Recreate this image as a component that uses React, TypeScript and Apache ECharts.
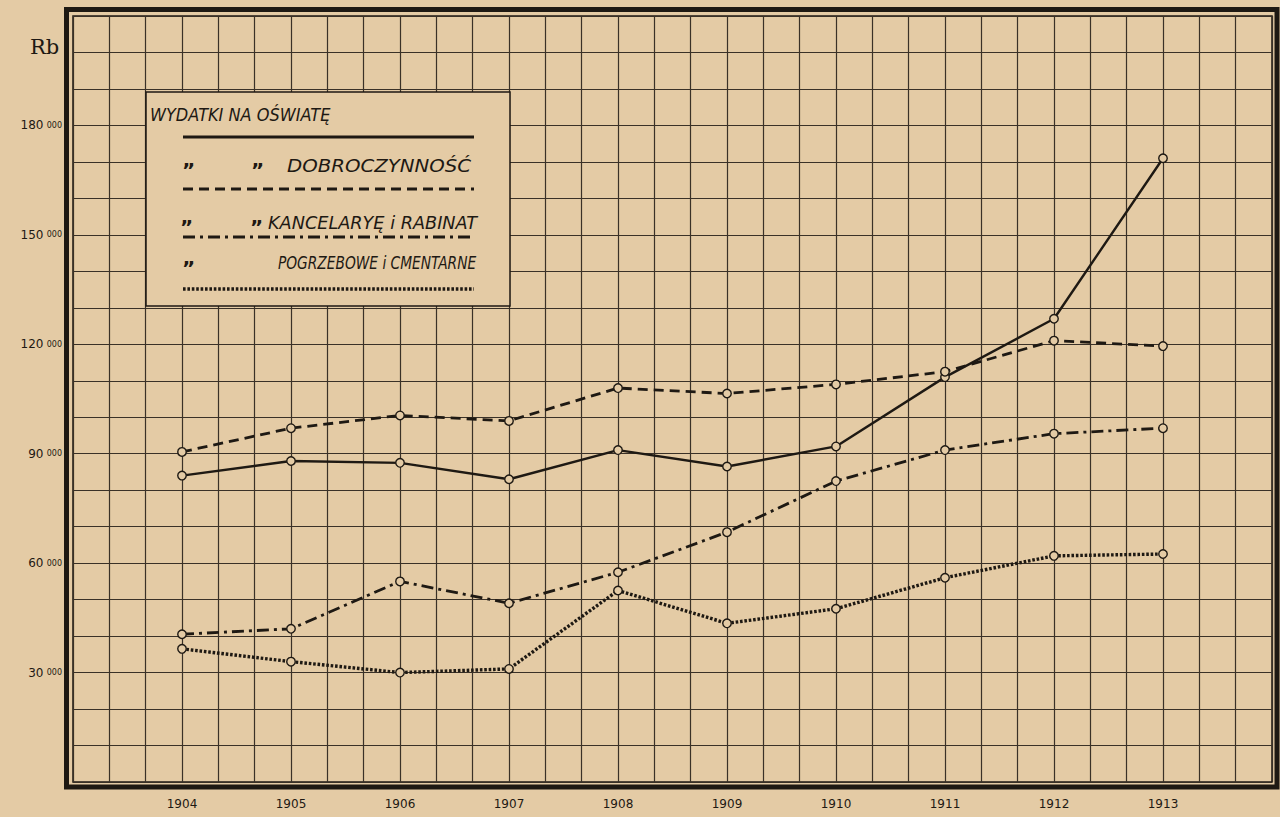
import React, { useEffect, useRef } from 'react';
import * as echarts from 'echarts';

const PAPER = '#e4cba5';
const INK = '#1e1913';
const GRIDINK = '#3a3127';

const years = [1904, 1905, 1906, 1907, 1908, 1909, 1910, 1911, 1912, 1913];
const education = [84000, 88000, 87500, 83000, 91000, 86500, 92000, 111000, 127000, 171000];
const charity = [90500, 97000, 100500, 99000, 108000, 106500, 109000, 112500, 121000, 119500];
const offices = [40500, 42000, 55000, 49000, 57500, 68500, 82500, 91000, 95500, 97000];
const funeral = [36500, 33000, 30000, 31000, 52500, 43500, 47500, 56000, 62000, 62500];
const yTickLabels = [30000, 60000, 90000, 120000, 150000, 180000];

const names = [
  'WYDATKI NA OŚWIATĘ',
  'DOBROCZYNNOŚĆ',
  'KANCELARYĘ i RABINAT',
  'POGRZEBOWE i CMENTARNE',
];

const DASH = [10, 6];
const DASHDOT = [12, 5, 3, 5];
const DOT = [2.6, 1.8];

export default function App() {
  const ref = useRef<HTMLDivElement>(null);
  useEffect(() => {
    const chart = echarts.init(ref.current!, null, { renderer: 'svg' });
    const mk = (name: string, values: number[], type: any, width: number) => ({
      type: 'line',
      name,
      data: years.map((y, i) => [y, values[i]]),
      symbol: 'circle',
      symbolSize: 8.5,
      showSymbol: true,
      lineStyle: { color: INK, width, type, cap: 'butt' },
      itemStyle: { color: PAPER, borderColor: INK, borderWidth: 1.4 },
      z: 5,
    });
    const font = (size: number) => ({ fontSize: size, fontStyle: 'italic', fontFamily: 'DejaVu Sans', fill: INK });
    const txt = (text: string, x: number, y: number, size: number, scaleX: number) => ({
      type: 'text', x, y, scaleX, z: 102,
      style: { text, ...font(size), align: 'left', verticalAlign: 'middle' },
    });
    const ditto = (x: number, y: number) => ({
      type: 'text', x, y, z: 102,
      style: { text: '”', fontSize: 20, fontWeight: 'bold', fontFamily: 'DejaVu Sans', fill: INK, align: 'left', verticalAlign: 'middle' },
    });
    const ln = (y: number, dash: any, width: number) => ({
      type: 'line', z: 102,
      shape: { x1: 183, y1: y, x2: 474, y2: y },
      style: { stroke: INK, lineWidth: width, lineDash: dash, lineCap: 'butt' },
    });
    chart.setOption({
      animation: false,
      backgroundColor: PAPER,
      grid: {
        show: true, left: 73, right: 8, top: 16, bottom: 35,
        borderColor: INK, borderWidth: 1.5, backgroundColor: 'transparent',
      },
      xAxis: {
        type: 'value', min: 1903, max: 1914, interval: 1,
        axisLine: { show: false }, axisTick: { show: false },
        splitLine: { show: true, lineStyle: { color: GRIDINK, width: 1.2 } },
        minorTick: { show: false, splitNumber: 3 },
        minorSplitLine: { show: true, lineStyle: { color: GRIDINK, width: 1.2 } },
        axisLabel: {
          margin: 16, fontSize: 12, color: INK, fontFamily: 'DejaVu Sans',
          formatter: (v: number) => (v >= 1904 && v <= 1913 ? String(v) : ''),
        },
      },
      yAxis: {
        type: 'value', min: 0, max: 210000, interval: 10000,
        axisLine: { show: false }, axisTick: { show: false },
        splitLine: { show: true, lineStyle: { color: GRIDINK, width: 1.2 } },
        axisLabel: {
          margin: 11, color: INK,
          formatter: (v: number) => (yTickLabels.includes(v) ? `{a|${v / 1000}} {b|000}` : ''),
          rich: {
            a: { fontSize: 12, fontFamily: 'DejaVu Sans', color: INK },
            b: { fontSize: 8, fontFamily: 'DejaVu Sans', color: INK },
          },
        },
      },
      series: [
        mk(names[0], education, 'solid', 2.4),
        mk(names[1], charity, DASH, 2.8),
        mk(names[2], offices, DASHDOT, 2.8),
        mk(names[3], funeral, DOT, 3.4),
      ],
      graphic: [
        {
          type: 'rect', z: 100,
          shape: { x: 66.5, y: 9.5, width: 1210.5, height: 777.5 },
          style: { fill: 'none', stroke: INK, lineWidth: 5 },
        },
        {
          type: 'text', x: 30, y: 47, z: 101,
          style: { text: 'Rb', fontSize: 21, fontFamily: 'DejaVu Serif', fill: INK, align: 'left', verticalAlign: 'middle' },
        },
        {
          type: 'rect', z: 101,
          shape: { x: 146, y: 92, width: 364, height: 214 },
          style: { fill: PAPER, stroke: INK, lineWidth: 1.5 },
        },
        txt(names[0], 150, 115, 17, 0.95),
        ln(137, null, 3),
        ditto(182, 170),
        ditto(251, 170),
        txt(names[1], 287, 166, 17, 1.16),
        ln(189, DASH, 3),
        ditto(180, 227),
        ditto(250, 227),
        txt(names[2], 268, 223, 17, 1.04),
        ln(237, DASHDOT, 3),
        ditto(182, 268),
        txt(names[3], 278, 264, 17, 0.81),
        ln(289, DOT, 3.4),
      ],
    });
    return () => chart.dispose();
  }, []);
  return <div ref={ref} style={{ position: 'fixed', left: 0, top: 0, width: 1280, height: 817 }} />;
}
